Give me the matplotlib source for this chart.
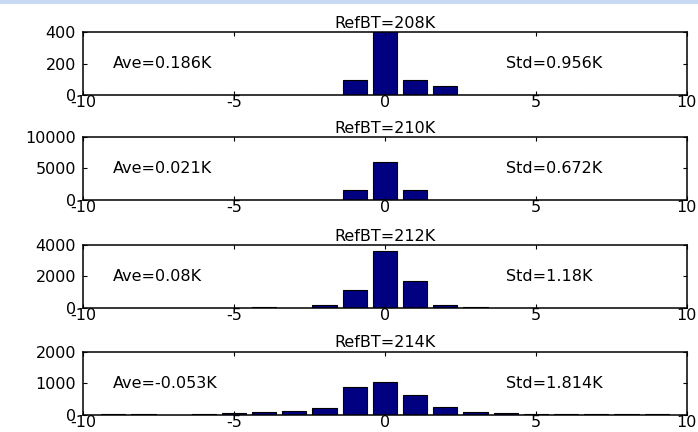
import matplotlib
matplotlib.use('Agg')
import matplotlib.pyplot as plt
from matplotlib.patches import Rectangle

plt.rcParams['font.family'] = ['DejaVu Sans']
plt.rcParams['axes.unicode_minus'] = False

# bin centres (K) and counts
bins = list(range(-9, 10))
counts_208 = [0, 0, 0, 0, 0, 3, 0, 0, 96, 410, 96, 60, 3, 0, 3, 3, 3, 0, 0]
counts_210 = [0, 0, 0, 0, 0, 40, 40, 40, 1550, 6050, 1550, 40, 40, 40, 40, 0, 0, 0, 0]
counts_212 = [0, 0, 30, 0, 30, 80, 30, 170, 1150, 3600, 1720, 220, 90, 30, 30, 30, 30, 30, 30]
counts_214 = [20, 20, 3, 30, 70, 100, 130, 225, 870, 1025, 635, 255, 92, 60, 30, 20, 20, 20, 20]

titles = ['RefBT=208K', 'RefBT=210K', 'RefBT=212K', 'RefBT=214K']
ymax = [400, 10000, 4000, 2000]
ave = ['Ave=0.186K', 'Ave=0.021K', 'Ave=0.08K', 'Ave=-0.053K']
std = ['Std=0.956K', 'Std=0.672K', 'Std=1.18K', 'Std=1.814K']
all_counts = [counts_208, counts_210, counts_212, counts_214]

fig = plt.figure(figsize=(6.98, 4.32), dpi=100)
fig.patches.append(Rectangle((0, 1 - 4 / 432), 1, 4 / 432, transform=fig.transFigure,
                             facecolor='#c9d9f2', edgecolor='none'))

bottoms = [0.780, 0.537, 0.287, 0.040]
fs = 11.5
for i in range(4):
    ax = fig.add_axes([0.119, bottoms[i], 0.865, 0.146])
    ax.bar(bins, all_counts[i], width=0.8, color='#000080', edgecolor='black', linewidth=0.8)
    ax.set_xlim(-10, 10)
    ax.set_ylim(0, ymax[i])
    ax.set_xticks([-10, -5, 0, 5, 10])
    ax.set_yticks([0, ymax[i] // 2, ymax[i]])
    ax.tick_params(direction='in', top=True, right=True, length=3, width=0.8,
                   labelsize=fs, pad=0)
    ax.tick_params(axis='y', pad=5)
    for s in ax.spines.values():
        s.set_linewidth(1.1)
    ax.set_title(titles[i], fontsize=fs, pad=3)
    ax.text(-9, ymax[i] / 2, ave[i], fontsize=fs, va='center', ha='left')
    ax.text(4, ymax[i] / 2, std[i], fontsize=fs, va='center', ha='left')

fig.savefig('out.png', dpi=100)
